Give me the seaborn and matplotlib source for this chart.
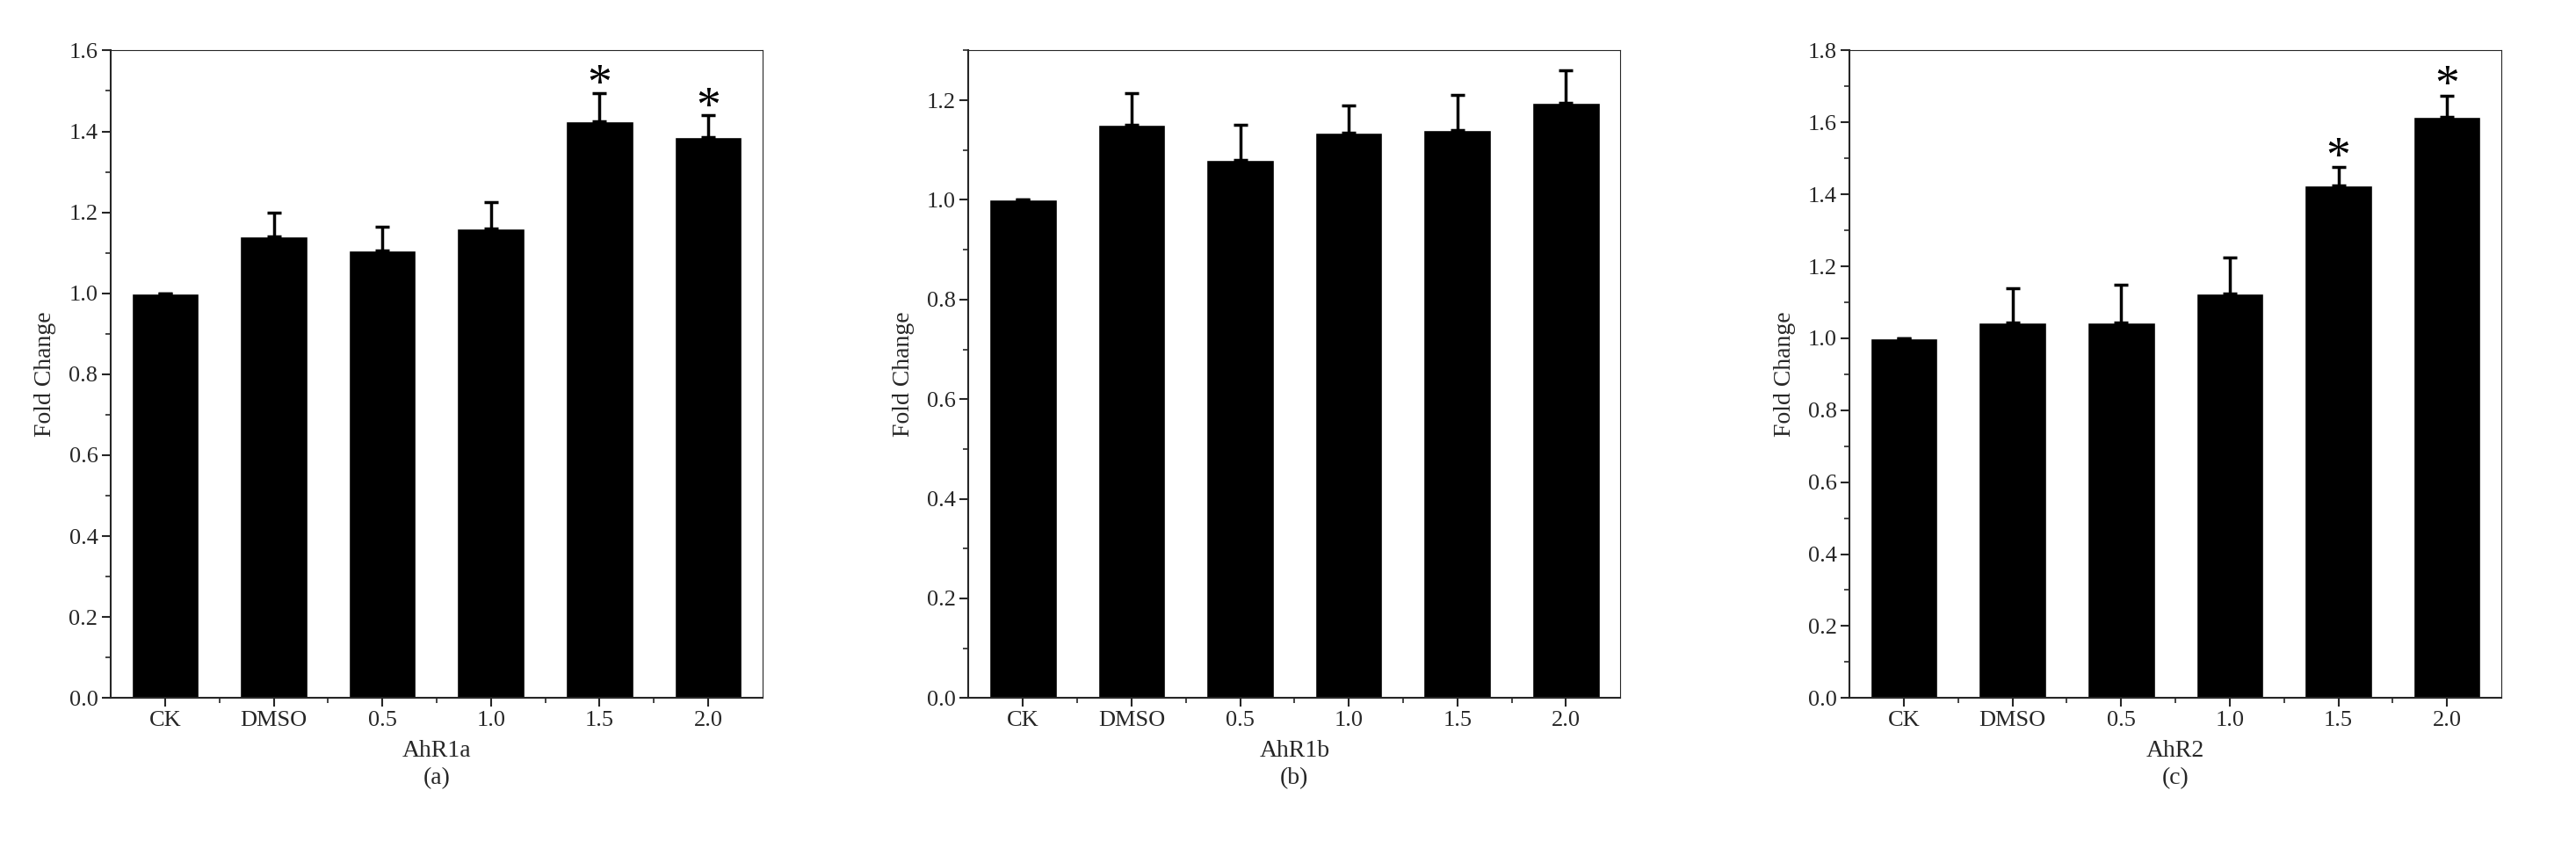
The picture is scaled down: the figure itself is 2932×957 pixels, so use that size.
import matplotlib
matplotlib.use('Agg')
import matplotlib.pyplot as plt
import seaborn as sns
import pandas as pd
from matplotlib.ticker import MultipleLocator, AutoMinorLocator

sns.set_style('ticks')
plt.rcParams['font.family'] = ['Liberation Serif', 'DejaVu Serif']

groups = ['CK', 'DMSO', '0.5', '1.0', '1.5', '2.0']

ahr1a_mean = [1.0, 1.14, 1.105, 1.16, 1.425, 1.385]
ahr1a_err = [0.0, 0.06, 0.06, 0.065, 0.07, 0.055]
ahr1a_star = [False, False, False, False, True, True]

ahr1b_mean = [1.0, 1.15, 1.08, 1.135, 1.14, 1.195]
ahr1b_err = [0.0, 0.065, 0.07, 0.055, 0.07, 0.065]
ahr1b_star = [False] * 6

ahr2_mean = [1.0, 1.045, 1.045, 1.125, 1.425, 1.615]
ahr2_err = [0.0, 0.095, 0.105, 0.1, 0.05, 0.06]
ahr2_star = [False, False, False, False, True, True]

panels = [
    ('AhR1a', '(a)', ahr1a_mean, ahr1a_err, ahr1a_star, 1.6),
    ('AhR1b', '(b)', ahr1b_mean, ahr1b_err, ahr1b_star, 1.3),
    ('AhR2', '(c)', ahr2_mean, ahr2_err, ahr2_star, 1.8),
]
lefts = [0.043, 0.376, 0.718]
width = 0.253

fig = plt.figure(figsize=(29.32, 9.57), dpi=100)
for (name, tag, mean, err, star, ymax), left in zip(panels, lefts):
    ax = fig.add_axes([left, 0.17, width, 0.77])
    df = pd.DataFrame({'group': groups, 'value': mean})
    sns.barplot(data=df, x='group', y='value', color='black', saturation=1,
                width=0.62, ax=ax, errorbar=None)
    ax.errorbar(range(len(groups)), mean, yerr=[[0] * len(err), err], fmt='none',
                ecolor='black', elinewidth=2.5, capsize=6, capthick=2.5)
    for i, s in enumerate(star):
        if s:
            ax.text(i, mean[i] + err[i] - 0.04, '*', ha='center', va='bottom',
                    fontsize=40, color='black')
    ax.set_ylim(0, ymax)
    ax.set_xlim(-0.5, len(groups) - 0.5)
    ax.yaxis.set_major_locator(MultipleLocator(0.2))
    ax.yaxis.set_minor_locator(AutoMinorLocator(2))
    ax.set_xticks(range(len(groups)))
    ax.set_xticks([i + 0.5 for i in range(len(groups) - 1)], minor=True)
    ax.tick_params(which='major', length=7, width=1.5, labelsize=19)
    ax.tick_params(which='minor', length=4, width=1.2)
    ax.set_yticklabels([f'{v:.1f}' for v in ax.get_yticks()])
    for sp in ['left', 'bottom']:
        ax.spines[sp].set_linewidth(1.5)
    ax.set_ylabel('Fold Change', fontsize=20, labelpad=10)
    ax.set_xlabel(name + '\n' + tag, fontsize=20, labelpad=8, linespacing=1.3)

fig.savefig('out.png', dpi=100)
